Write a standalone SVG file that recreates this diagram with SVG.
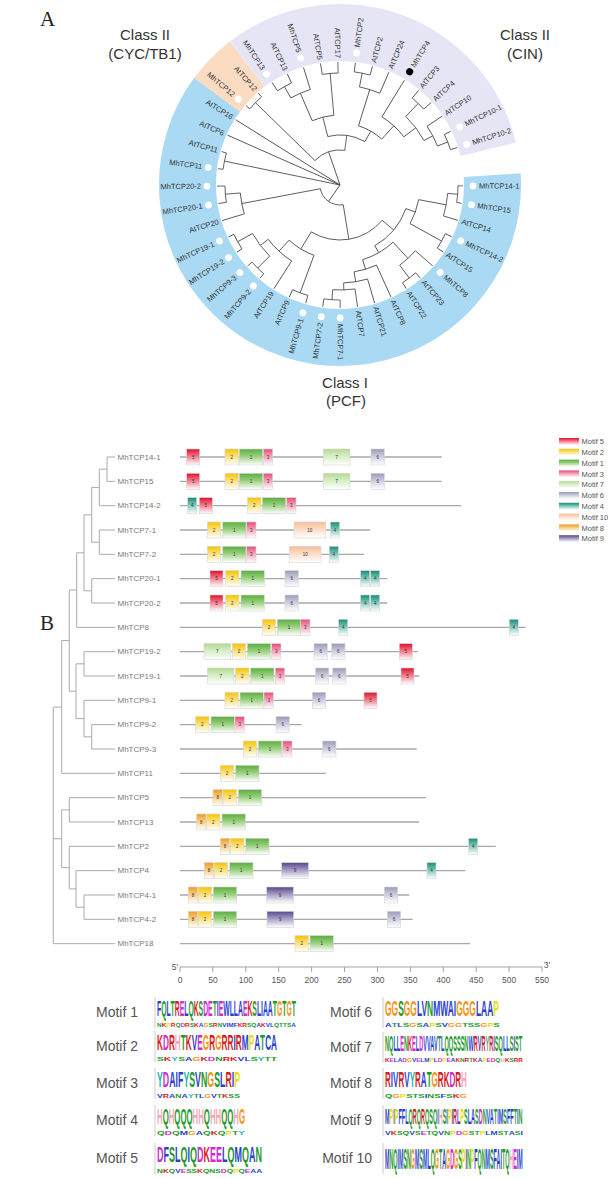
<svg xmlns="http://www.w3.org/2000/svg" width="608" height="1179" viewBox="0 0 608 1179">
<defs>
<linearGradient id="g1" x1="0" y1="0" x2="0" y2="1"><stop offset="0" stop-color="#5cae40"/><stop offset="0.45" stop-color="#98cf7c"/><stop offset="1" stop-color="#fff"/></linearGradient>
<linearGradient id="g2" x1="0" y1="0" x2="0" y2="1"><stop offset="0" stop-color="#f6c400"/><stop offset="0.45" stop-color="#fbe07a"/><stop offset="1" stop-color="#fff"/></linearGradient>
<linearGradient id="g3" x1="0" y1="0" x2="0" y2="1"><stop offset="0" stop-color="#e64c78"/><stop offset="0.45" stop-color="#f3a0b8"/><stop offset="1" stop-color="#fff"/></linearGradient>
<linearGradient id="g4" x1="0" y1="0" x2="0" y2="1"><stop offset="0" stop-color="#168c74"/><stop offset="0.45" stop-color="#7ac6b6"/><stop offset="1" stop-color="#fff"/></linearGradient>
<linearGradient id="g5" x1="0" y1="0" x2="0" y2="1"><stop offset="0" stop-color="#e0102e"/><stop offset="0.45" stop-color="#f27888"/><stop offset="1" stop-color="#fff"/></linearGradient>
<linearGradient id="g6" x1="0" y1="0" x2="0" y2="1"><stop offset="0" stop-color="#9a9ab6"/><stop offset="0.45" stop-color="#cbcbde"/><stop offset="1" stop-color="#fff"/></linearGradient>
<linearGradient id="g7" x1="0" y1="0" x2="0" y2="1"><stop offset="0" stop-color="#b2da92"/><stop offset="0.45" stop-color="#d6eec4"/><stop offset="1" stop-color="#fff"/></linearGradient>
<linearGradient id="g8" x1="0" y1="0" x2="0" y2="1"><stop offset="0" stop-color="#f09c1c"/><stop offset="0.45" stop-color="#f8cd80"/><stop offset="1" stop-color="#fff"/></linearGradient>
<linearGradient id="g9" x1="0" y1="0" x2="0" y2="1"><stop offset="0" stop-color="#574886"/><stop offset="0.45" stop-color="#a69ac6"/><stop offset="1" stop-color="#fff"/></linearGradient>
<linearGradient id="g10" x1="0" y1="0" x2="0" y2="1"><stop offset="0" stop-color="#f7be96"/><stop offset="0.45" stop-color="#fcdcc6"/><stop offset="1" stop-color="#fff"/></linearGradient>
</defs>
<style>
text{font-family:"Liberation Sans",Arial,sans-serif}
.pl{font-family:"Liberation Serif","Times New Roman",serif;font-size:21px;fill:#222}
.tl{font-size:7.5px;fill:#333;dominant-baseline:central}
.fl{text-anchor:end}
.e line,.e circle{stroke:#444;stroke-width:0.8;fill:none}
.dot{fill:#fff}
.blk{fill:#000}
.cls{font-size:15px;fill:#333;text-anchor:middle}
.bt line{stroke:#aaa;stroke-width:1}
.nm{font-size:8px;fill:#7a7a7a;dominant-baseline:central}
.ln{stroke:#a8a8a8;stroke-width:1.3}
.row rect{stroke:#d5d5d5;stroke-width:0.6}
.bn{font-size:4.5px;fill:#333;text-anchor:middle}
.m1{fill:url(#g1)}.m2{fill:url(#g2)}.m3{fill:url(#g3)}.m4{fill:url(#g4)}.m5{fill:url(#g5)}
.m6{fill:url(#g6)}.m7{fill:url(#g7)}.m8{fill:url(#g8)}.m9{fill:url(#g9)}.m10{fill:url(#g10)}
.lg text{font-size:7.5px;fill:#555}
.ax text{font-size:8.5px;fill:#555;text-anchor:middle}
.ax line{stroke:#999;stroke-width:0.9}
.ml{font-size:14px;fill:#555;text-anchor:end}
.lo{font-weight:bold;font-size:10px}
.lax{stroke:#999;stroke-width:0.5}
.cb{fill:#2a3fd0}.cg{fill:#1e9a2a}.cm{fill:#d02ad0}.cr{fill:#d81c1c}.ch{fill:#f4a8b8}.co{fill:#f29418}.cy{fill:#e6e010}.ct{fill:#22b4b4}
</style>
<rect width="608" height="1179" fill="#fff"/>

<!-- Panel A -->
<text class="pl" x="40" y="26">A</text>
<g id="ring" transform="translate(340,185)" fill="none" stroke-width="57">
<circle r="152.5" stroke="#a9d9f3" stroke-dasharray="585.3 2000" transform="rotate(-3.7)"/>
<circle r="152.5" stroke="#fbdcc3" stroke-dasharray="43.4 2000" transform="rotate(216.2)"/>
<circle r="152.5" stroke="#e6e5f5" stroke-dasharray="303.2 2000" transform="rotate(232.5)"/>
</g>
<g id="class-labels">
<text class="cls" x="145" y="39.5">Class II</text>
<text class="cls" x="145" y="59">(CYC/TB1)</text>
<text class="cls" x="525" y="39.5">Class II</text>
<text class="cls" x="525" y="59">(CIN)</text>
<text class="cls" x="345" y="388">Class I</text>
<text class="cls" x="346" y="406">(PCF)</text>
</g>
<g id="tree-a-edges" class="e" transform="translate(340,185)">
<line x2="35" transform="rotate(251)"/>
<line x2="123" transform="rotate(212.04)"/>
<line x2="123" transform="rotate(203.9)"/>
<line x2="118" transform="rotate(191.69)"/>
<line x2="20" transform="rotate(125)"/>
<circle r="35" stroke-dasharray="32.71 2000" transform="rotate(224.25)"/>
<circle r="118" stroke-dasharray="16.76 2000" transform="rotate(220.18)"/>
<circle r="50" stroke-dasharray="38.4 2000" transform="rotate(255.8)"/>
<circle r="70" stroke-dasharray="22.37 2000" transform="rotate(246.64)"/>
<circle r="100" stroke-dasharray="21.31 2000" transform="rotate(240.53)"/>
<circle r="113" stroke-dasharray="16.05 2000" transform="rotate(236.46)"/>
<circle r="112" stroke-dasharray="15.91 2000" transform="rotate(260.88)"/>
<circle r="62" stroke-dasharray="26.98 2000" transform="rotate(287.34)"/>
<circle r="100" stroke-dasharray="21.31 2000" transform="rotate(281.23)"/>
<circle r="114" stroke-dasharray="16.2 2000" transform="rotate(277.16)"/>
<circle r="80" stroke-dasharray="29.84 2000" transform="rotate(301.58)"/>
<circle r="95" stroke-dasharray="30.36 2000" transform="rotate(313.79)"/>
<circle r="113" stroke-dasharray="16.05 2000" transform="rotate(309.72)"/>
<circle r="105" stroke-dasharray="22.38 2000" transform="rotate(326)"/>
<circle r="116" stroke-dasharray="16.48 2000" transform="rotate(334.14)"/>
<circle r="118" stroke-dasharray="16.76 2000" transform="rotate(187.62)"/>
<circle r="20" stroke-dasharray="30.92 2000" transform="rotate(80.72)"/>
<circle r="100" stroke-dasharray="21.31 2000" transform="rotate(163.2)"/>
<circle r="115" stroke-dasharray="16.34 2000" transform="rotate(171.34)"/>
<circle r="55" stroke-dasharray="78.27 2000" transform="rotate(39.95)"/>
<circle r="75" stroke-dasharray="29.31 2000" transform="rotate(110.29)"/>
<circle r="115" stroke-dasharray="16.34 2000" transform="rotate(106.22)"/>
<circle r="90" stroke-dasharray="31.98 2000" transform="rotate(122.5)"/>
<circle r="100" stroke-dasharray="28.43 2000" transform="rotate(134.71)"/>
<circle r="117" stroke-dasharray="16.62 2000" transform="rotate(130.64)"/>
<circle r="117" stroke-dasharray="16.62 2000" transform="rotate(146.92)"/>
<circle r="70" stroke-dasharray="49.42 2000" transform="rotate(19.73)"/>
<circle r="80" stroke-dasharray="25.57 2000" transform="rotate(10.575)"/>
<circle r="108" stroke-dasharray="23.02 2000" transform="rotate(4.47)"/>
<circle r="118" stroke-dasharray="16.76 2000" transform="rotate(0.4)"/>
<circle r="116" stroke-dasharray="16.48 2000" transform="rotate(24.82)"/>
<circle r="78" stroke-dasharray="35.33 2000" transform="rotate(47.2)"/>
<circle r="100" stroke-dasharray="21.31 2000" transform="rotate(41.1)"/>
<circle r="116" stroke-dasharray="16.48 2000" transform="rotate(49.24)"/>
<circle r="88" stroke-dasharray="23.44 2000" transform="rotate(65.52)"/>
<circle r="98" stroke-dasharray="24.36 2000" transform="rotate(73.66)"/>
<circle r="105" stroke-dasharray="22.38 2000" transform="rotate(81.8)"/>
<circle r="115" stroke-dasharray="16.34 2000" transform="rotate(89.94)"/>
<line x1="35" x2="118" transform="rotate(224.25)"/>
<line x1="35" x2="50" transform="rotate(277.8)"/>
<line x1="50" x2="70" transform="rotate(255.8)"/>
<line x1="50" x2="62" transform="rotate(299.8)"/>
<line x1="70" x2="100" transform="rotate(246.64)"/>
<line x1="70" x2="112" transform="rotate(264.95)"/>
<line x1="100" x2="113" transform="rotate(240.53)"/>
<line x1="100" x2="123" transform="rotate(252.74)"/>
<line x1="113" x2="123" transform="rotate(236.46)"/>
<line x1="113" x2="123" transform="rotate(244.6)"/>
<line x1="112" x2="123" transform="rotate(260.88)"/>
<line x1="112" x2="123" transform="rotate(269.02)"/>
<line x1="62" x2="100" transform="rotate(287.34)"/>
<line x1="62" x2="80" transform="rotate(312.27)"/>
<line x1="100" x2="114" transform="rotate(281.23)"/>
<line x1="100" x2="123" transform="rotate(293.44)"/>
<line x1="114" x2="123" transform="rotate(277.16)"/>
<line x1="114" x2="123" transform="rotate(285.3)"/>
<line x1="80" x2="123" transform="rotate(301.58)"/>
<line x1="80" x2="95" transform="rotate(322.95)"/>
<line x1="95" x2="113" transform="rotate(313.79)"/>
<line x1="95" x2="105" transform="rotate(332.1)"/>
<line x1="113" x2="123" transform="rotate(309.72)"/>
<line x1="113" x2="123" transform="rotate(317.86)"/>
<line x1="105" x2="123" transform="rotate(326)"/>
<line x1="105" x2="116" transform="rotate(338.21)"/>
<line x1="116" x2="123" transform="rotate(334.14)"/>
<line x1="116" x2="123" transform="rotate(342.28)"/>
<line x1="118" x2="123" transform="rotate(220.18)"/>
<line x1="118" x2="123" transform="rotate(228.32)"/>
<line x1="118" x2="123" transform="rotate(187.62)"/>
<line x1="118" x2="123" transform="rotate(195.76)"/>
<line x1="20" x2="55" transform="rotate(80.72)"/>
<line x1="20" x2="100" transform="rotate(169.3)"/>
<line x1="100" x2="123" transform="rotate(163.2)"/>
<line x1="100" x2="115" transform="rotate(175.41)"/>
<line x1="115" x2="123" transform="rotate(171.34)"/>
<line x1="115" x2="123" transform="rotate(179.48)"/>
<line x1="55" x2="75" transform="rotate(121.49)"/>
<line x1="55" x2="70" transform="rotate(39.95)"/>
<line x1="75" x2="115" transform="rotate(110.29)"/>
<line x1="75" x2="90" transform="rotate(132.68)"/>
<line x1="115" x2="123" transform="rotate(106.22)"/>
<line x1="115" x2="123" transform="rotate(114.36)"/>
<line x1="90" x2="123" transform="rotate(122.5)"/>
<line x1="90" x2="100" transform="rotate(142.86)"/>
<line x1="100" x2="117" transform="rotate(134.71)"/>
<line x1="100" x2="117" transform="rotate(151)"/>
<line x1="117" x2="123" transform="rotate(130.64)"/>
<line x1="117" x2="123" transform="rotate(138.78)"/>
<line x1="117" x2="123" transform="rotate(146.92)"/>
<line x1="117" x2="123" transform="rotate(155.06)"/>
<line x1="70" x2="80" transform="rotate(19.73)"/>
<line x1="70" x2="78" transform="rotate(60.18)"/>
<line x1="80" x2="108" transform="rotate(10.575)"/>
<line x1="80" x2="116" transform="rotate(28.89)"/>
<line x1="108" x2="118" transform="rotate(4.47)"/>
<line x1="108" x2="123" transform="rotate(16.68)"/>
<line x1="118" x2="123" transform="rotate(0.4)"/>
<line x1="118" x2="123" transform="rotate(8.54)"/>
<line x1="116" x2="123" transform="rotate(24.82)"/>
<line x1="116" x2="123" transform="rotate(32.96)"/>
<line x1="78" x2="100" transform="rotate(47.2)"/>
<line x1="78" x2="88" transform="rotate(73.15)"/>
<line x1="100" x2="123" transform="rotate(41.1)"/>
<line x1="100" x2="116" transform="rotate(53.31)"/>
<line x1="116" x2="123" transform="rotate(49.24)"/>
<line x1="116" x2="123" transform="rotate(57.38)"/>
<line x1="88" x2="123" transform="rotate(65.52)"/>
<line x1="88" x2="98" transform="rotate(80.78)"/>
<line x1="98" x2="123" transform="rotate(73.66)"/>
<line x1="98" x2="105" transform="rotate(87.9)"/>
<line x1="105" x2="123" transform="rotate(81.8)"/>
<line x1="105" x2="115" transform="rotate(94.01)"/>
<line x1="115" x2="123" transform="rotate(89.94)"/>
<line x1="115" x2="123" transform="rotate(98.08)"/>
</g>
<g id="tree-a-leaves" transform="translate(340,185)">
<g id="a-MhTCP14-1" transform="rotate(0.4)"><circle class="dot" cx="133" r="3.4"/><text class="tl" x="139">MhTCP14-1</text></g>
<g id="a-MhTCP15" transform="rotate(8.54)"><circle class="dot" cx="133" r="3.4"/><text class="tl" x="139">MhTCP15</text></g>
<g id="a-AtTCP14" transform="rotate(16.68)"><text class="tl" x="127">AtTCP14</text></g>
<g id="a-MhTCP14-2" transform="rotate(24.82)"><circle class="dot" cx="133" r="3.4"/><text class="tl" x="139">MhTCP14-2</text></g>
<g id="a-AtTCP15" transform="rotate(32.96)"><text class="tl" x="127">AtTCP15</text></g>
<g id="a-MhTCP8" transform="rotate(41.1)"><circle class="dot" cx="133" r="3.4"/><text class="tl" x="139">MhTCP8</text></g>
<g id="a-AtTCP23" transform="rotate(49.24)"><text class="tl" x="127">AtTCP23</text></g>
<g id="a-AtTCP22" transform="rotate(57.38)"><text class="tl" x="127">AtTCP22</text></g>
<g id="a-AtTCP8" transform="rotate(65.52)"><text class="tl" x="127">AtTCP8</text></g>
<g id="a-AtTCP21" transform="rotate(73.66)"><text class="tl" x="127">AtTCP21</text></g>
<g id="a-AtTCP7" transform="rotate(81.8)"><text class="tl" x="127">AtTCP7</text></g>
<g id="a-MhTCP7-1" transform="rotate(89.94)"><circle class="dot" cx="133" r="3.4"/><text class="tl" x="139">MhTCP7-1</text></g>
<g id="a-MhTCP7-2" transform="rotate(98.08)"><circle class="dot" cx="133" r="3.4"/><text class="tl fl" transform="translate(139,0) rotate(180)">MhTCP7-2</text></g>
<g id="a-MhTCP9-1" transform="rotate(106.22)"><circle class="dot" cx="133" r="3.4"/><text class="tl fl" transform="translate(139,0) rotate(180)">MhTCP9-1</text></g>
<g id="a-AtTCP9" transform="rotate(114.36)"><text class="tl fl" transform="translate(127,0) rotate(180)">AtTCP9</text></g>
<g id="a-AtTCP19" transform="rotate(122.5)"><text class="tl fl" transform="translate(127,0) rotate(180)">AtTCP19</text></g>
<g id="a-MhTCP9-2" transform="rotate(130.64)"><circle class="dot" cx="133" r="3.4"/><text class="tl fl" transform="translate(139,0) rotate(180)">MhTCP9-2</text></g>
<g id="a-MhTCP9-3" transform="rotate(138.78)"><circle class="dot" cx="133" r="3.4"/><text class="tl fl" transform="translate(139,0) rotate(180)">MhTCP9-3</text></g>
<g id="a-MhTCP19-2" transform="rotate(146.92)"><circle class="dot" cx="133" r="3.4"/><text class="tl fl" transform="translate(139,0) rotate(180)">MhTCP19-2</text></g>
<g id="a-MhTCP19-1" transform="rotate(155.06)"><circle class="dot" cx="133" r="3.4"/><text class="tl fl" transform="translate(139,0) rotate(180)">MhTCP19-1</text></g>
<g id="a-AtTCP20" transform="rotate(163.2)"><text class="tl fl" transform="translate(127,0) rotate(180)">AtTCP20</text></g>
<g id="a-MhTCP20-1" transform="rotate(171.34)"><circle class="dot" cx="133" r="3.4"/><text class="tl fl" transform="translate(139,0) rotate(180)">MhTCP20-1</text></g>
<g id="a-MhTCP20-2" transform="rotate(179.48)"><circle class="dot" cx="133" r="3.4"/><text class="tl fl" transform="translate(139,0) rotate(180)">MhTCP20-2</text></g>
<g id="a-MhTCP11" transform="rotate(187.62)"><circle class="dot" cx="133" r="3.4"/><text class="tl fl" transform="translate(139,0) rotate(180)">MhTCP11</text></g>
<g id="a-AtTCP11" transform="rotate(195.76)"><text class="tl fl" transform="translate(127,0) rotate(180)">AtTCP11</text></g>
<g id="a-AtTCP6" transform="rotate(203.9)"><text class="tl fl" transform="translate(127,0) rotate(180)">AtTCP6</text></g>
<g id="a-AtTCP16" transform="rotate(212.04)"><text class="tl fl" transform="translate(127,0) rotate(180)">AtTCP16</text></g>
<g id="a-MhTCP12" transform="rotate(220.18)"><circle class="dot" cx="133" r="3.4"/><text class="tl fl" transform="translate(139,0) rotate(180)">MhTCP12</text></g>
<g id="a-AtTCP12" transform="rotate(228.32)"><text class="tl fl" transform="translate(127,0) rotate(180)">AtTCP12</text></g>
<g id="a-MhTCP13" transform="rotate(236.46)"><circle class="dot" cx="133" r="3.4"/><text class="tl fl" transform="translate(139,0) rotate(180)">MhTCP13</text></g>
<g id="a-AtTCP13" transform="rotate(244.6)"><text class="tl fl" transform="translate(127,0) rotate(180)">AtTCP13</text></g>
<g id="a-MhTCP5" transform="rotate(252.74)"><circle class="dot" cx="133" r="3.4"/><text class="tl fl" transform="translate(139,0) rotate(180)">MhTCP5</text></g>
<g id="a-AtTCP5" transform="rotate(260.88)"><text class="tl fl" transform="translate(127,0) rotate(180)">AtTCP5</text></g>
<g id="a-AtTCP17" transform="rotate(269.02)"><text class="tl fl" transform="translate(127,0) rotate(180)">AtTCP17</text></g>
<g id="a-MhTCP2" transform="rotate(277.16)"><circle class="dot" cx="133" r="3.4"/><text class="tl" x="139">MhTCP2</text></g>
<g id="a-AtTCP2" transform="rotate(285.3)"><text class="tl" x="127">AtTCP2</text></g>
<g id="a-AtTCP24" transform="rotate(293.44)"><text class="tl" x="127">AtTCP24</text></g>
<g id="a-MhTCP4" transform="rotate(301.58)"><circle class="blk" cx="133" r="3.6"/><text class="tl" x="139">MhTCP4</text></g>
<g id="a-AtTCP3" transform="rotate(309.72)"><text class="tl" x="127">AtTCP3</text></g>
<g id="a-AtTCP4" transform="rotate(317.86)"><text class="tl" x="127">AtTCP4</text></g>
<g id="a-AtTCP10" transform="rotate(326)"><text class="tl" x="127">AtTCP10</text></g>
<g id="a-MhTCP10-1" transform="rotate(334.14)"><circle class="dot" cx="133" r="3.4"/><text class="tl" x="139">MhTCP10-1</text></g>
<g id="a-MhTCP10-2" transform="rotate(342.28)"><circle class="dot" cx="133" r="3.4"/><text class="tl" x="139">MhTCP10-2</text></g>
</g>

<!-- Panel B -->
<text class="pl" x="40" y="630">B</text>
<g id="tree-b-edges" class="bt">
<line x1="107" y1="457" x2="107" y2="481.33"/>
<line x1="99.3" y1="469.17" x2="99.3" y2="505.67"/>
<line x1="99.3" y1="530" x2="99.3" y2="554.33"/>
<line x1="91.7" y1="487.42" x2="91.7" y2="542.17"/>
<line x1="91.7" y1="578.67" x2="91.7" y2="603"/>
<line x1="84" y1="514.8" x2="84" y2="590.83"/>
<line x1="76.7" y1="552.8" x2="76.7" y2="627.33"/>
<line x1="84" y1="651.67" x2="84" y2="676"/>
<line x1="91.7" y1="724.67" x2="91.7" y2="749"/>
<line x1="84" y1="700.33" x2="84" y2="736.83"/>
<line x1="76" y1="663.83" x2="76" y2="718.58"/>
<line x1="69.3" y1="590.07" x2="69.3" y2="691.2"/>
<line x1="61.7" y1="640.6" x2="61.7" y2="773.33"/>
<line x1="69.3" y1="797.67" x2="69.3" y2="822"/>
<line x1="84" y1="895" x2="84" y2="919.33"/>
<line x1="76" y1="870.67" x2="76" y2="907.17"/>
<line x1="69.3" y1="846.33" x2="69.3" y2="888.92"/>
<line x1="61.7" y1="809.83" x2="61.7" y2="867.63"/>
<line x1="53.3" y1="707.1" x2="53.3" y2="943.67"/>
<line x1="99.3" y1="469.17" x2="107" y2="469.17"/>
<line x1="91.7" y1="487.42" x2="99.3" y2="487.42"/>
<line x1="91.7" y1="542.17" x2="99.3" y2="542.17"/>
<line x1="84" y1="514.8" x2="91.7" y2="514.8"/>
<line x1="84" y1="590.83" x2="91.7" y2="590.83"/>
<line x1="76.7" y1="552.8" x2="84" y2="552.8"/>
<line x1="69.3" y1="590.07" x2="76.7" y2="590.07"/>
<line x1="76" y1="663.83" x2="84" y2="663.83"/>
<line x1="84" y1="736.83" x2="91.7" y2="736.83"/>
<line x1="76" y1="718.58" x2="84" y2="718.58"/>
<line x1="69.3" y1="691.2" x2="76" y2="691.2"/>
<line x1="61.7" y1="640.6" x2="69.3" y2="640.6"/>
<line x1="53.3" y1="707.1" x2="61.7" y2="707.1"/>
<line x1="61.7" y1="809.83" x2="69.3" y2="809.83"/>
<line x1="76" y1="907.17" x2="84" y2="907.17"/>
<line x1="69.3" y1="888.92" x2="76" y2="888.92"/>
<line x1="61.7" y1="867.63" x2="69.3" y2="867.63"/>
<line x1="53.3" y1="838.73" x2="61.7" y2="838.73"/>
<line x1="107" y1="457" x2="115" y2="457"/>
<line x1="107" y1="481.33" x2="115" y2="481.33"/>
<line x1="99.3" y1="505.67" x2="115" y2="505.67"/>
<line x1="99.3" y1="530" x2="115" y2="530"/>
<line x1="99.3" y1="554.33" x2="115" y2="554.33"/>
<line x1="91.7" y1="578.67" x2="115" y2="578.67"/>
<line x1="91.7" y1="603" x2="115" y2="603"/>
<line x1="76.7" y1="627.33" x2="115" y2="627.33"/>
<line x1="84" y1="651.67" x2="115" y2="651.67"/>
<line x1="84" y1="676" x2="115" y2="676"/>
<line x1="84" y1="700.33" x2="115" y2="700.33"/>
<line x1="91.7" y1="724.67" x2="115" y2="724.67"/>
<line x1="91.7" y1="749" x2="115" y2="749"/>
<line x1="61.7" y1="773.33" x2="115" y2="773.33"/>
<line x1="69.3" y1="797.67" x2="115" y2="797.67"/>
<line x1="69.3" y1="822" x2="115" y2="822"/>
<line x1="69.3" y1="846.33" x2="115" y2="846.33"/>
<line x1="76" y1="870.67" x2="115" y2="870.67"/>
<line x1="84" y1="895" x2="115" y2="895"/>
<line x1="84" y1="919.33" x2="115" y2="919.33"/>
<line x1="53.3" y1="943.67" x2="115" y2="943.67"/>
</g>

<g id="row-MhTCP14-1" class="row" transform="translate(0,457)"><text class="nm" x="117.5">MhTCP14-1</text><line class="ln" x1="180" x2="441.7"/>
<rect class="m5" x="186.7" y="-8" width="13" height="16"/><text class="bn" x="193.2" y="1.6">5</text>
<rect class="m2" x="225" y="-8" width="13.3" height="16"/><text class="bn" x="231.65" y="1.6">2</text>
<rect class="m1" x="239.3" y="-8" width="23.3" height="16"/><text class="bn" x="250.95" y="1.6">1</text>
<rect class="m3" x="263.3" y="-8" width="9.3" height="16"/><text class="bn" x="267.95" y="1.6">3</text>
<rect class="m7" x="323.3" y="-8" width="26.7" height="16"/><text class="bn" x="336.65" y="1.6">7</text>
<rect class="m6" x="371" y="-8" width="13.3" height="16"/><text class="bn" x="377.65" y="1.6">6</text></g>
<g id="row-MhTCP15" class="row" transform="translate(0,481.33)"><text class="nm" x="117.5">MhTCP15</text><line class="ln" x1="180" x2="441.7"/>
<rect class="m5" x="186.7" y="-8" width="13" height="16"/><text class="bn" x="193.2" y="1.6">5</text>
<rect class="m2" x="225" y="-8" width="13.3" height="16"/><text class="bn" x="231.65" y="1.6">2</text>
<rect class="m1" x="239.3" y="-8" width="23.3" height="16"/><text class="bn" x="250.95" y="1.6">1</text>
<rect class="m3" x="263.3" y="-8" width="9.3" height="16"/><text class="bn" x="267.95" y="1.6">3</text>
<rect class="m7" x="323.3" y="-8" width="26.7" height="16"/><text class="bn" x="336.65" y="1.6">7</text>
<rect class="m6" x="371" y="-8" width="13.3" height="16"/><text class="bn" x="377.65" y="1.6">6</text></g>
<g id="row-MhTCP14-2" class="row" transform="translate(0,505.67)"><text class="nm" x="117.5">MhTCP14-2</text><line class="ln" x1="180" x2="461"/>
<rect class="m4" x="187.7" y="-8" width="9" height="16"/><text class="bn" x="192.2" y="1.6">4</text>
<rect class="m5" x="199.3" y="-8" width="13" height="16"/><text class="bn" x="205.8" y="1.6">5</text>
<rect class="m2" x="247.7" y="-8" width="13.3" height="16"/><text class="bn" x="254.35" y="1.6">2</text>
<rect class="m1" x="262.3" y="-8" width="23.3" height="16"/><text class="bn" x="273.95" y="1.6">1</text>
<rect class="m3" x="286.7" y="-8" width="9.3" height="16"/><text class="bn" x="291.35" y="1.6">3</text></g>
<g id="row-MhTCP7-1" class="row" transform="translate(0,530)"><text class="nm" x="117.5">MhTCP7-1</text><line class="ln" x1="180" x2="370"/>
<rect class="m2" x="207.3" y="-8" width="13.3" height="16"/><text class="bn" x="213.95" y="1.6">2</text>
<rect class="m1" x="222.7" y="-8" width="23.3" height="16"/><text class="bn" x="234.35" y="1.6">1</text>
<rect class="m3" x="246.7" y="-8" width="9.3" height="16"/><text class="bn" x="251.35" y="1.6">3</text>
<rect class="m10" x="294" y="-8" width="31.7" height="16"/><text class="bn" x="309.85" y="1.6">10</text>
<rect class="m4" x="330.5" y="-8" width="9" height="16"/><text class="bn" x="335" y="1.6">4</text></g>
<g id="row-MhTCP7-2" class="row" transform="translate(0,554.33)"><text class="nm" x="117.5">MhTCP7-2</text><line class="ln" x1="180" x2="364"/>
<rect class="m2" x="207.3" y="-8" width="13.3" height="16"/><text class="bn" x="213.95" y="1.6">2</text>
<rect class="m1" x="222.7" y="-8" width="23.3" height="16"/><text class="bn" x="234.35" y="1.6">1</text>
<rect class="m3" x="246.7" y="-8" width="9.3" height="16"/><text class="bn" x="251.35" y="1.6">3</text>
<rect class="m10" x="289.3" y="-8" width="31.7" height="16"/><text class="bn" x="305.15" y="1.6">10</text>
<rect class="m4" x="329.3" y="-8" width="9" height="16"/><text class="bn" x="333.8" y="1.6">4</text></g>
<g id="row-MhTCP20-1" class="row" transform="translate(0,578.67)"><text class="nm" x="117.5">MhTCP20-1</text><line class="ln" x1="180" x2="387.3"/>
<rect class="m5" x="210" y="-8" width="13" height="16"/><text class="bn" x="216.5" y="1.6">5</text>
<rect class="m2" x="225.7" y="-8" width="13.3" height="16"/><text class="bn" x="232.35" y="1.6">2</text>
<rect class="m1" x="241" y="-8" width="23.3" height="16"/><text class="bn" x="252.65" y="1.6">1</text>
<rect class="m6" x="285" y="-8" width="13.3" height="16"/><text class="bn" x="291.65" y="1.6">6</text>
<rect class="m4" x="360.7" y="-8" width="9" height="16"/><text class="bn" x="365.2" y="1.6">4</text>
<rect class="m4" x="370.7" y="-8" width="9" height="16"/><text class="bn" x="375.2" y="1.6">4</text></g>
<g id="row-MhTCP20-2" class="row" transform="translate(0,603)"><text class="nm" x="117.5">MhTCP20-2</text><line class="ln" x1="180" x2="387.3"/>
<rect class="m5" x="210" y="-8" width="13" height="16"/><text class="bn" x="216.5" y="1.6">5</text>
<rect class="m2" x="225.7" y="-8" width="13.3" height="16"/><text class="bn" x="232.35" y="1.6">2</text>
<rect class="m1" x="241" y="-8" width="23.3" height="16"/><text class="bn" x="252.65" y="1.6">1</text>
<rect class="m6" x="285" y="-8" width="13.3" height="16"/><text class="bn" x="291.65" y="1.6">6</text>
<rect class="m4" x="360.7" y="-8" width="9" height="16"/><text class="bn" x="365.2" y="1.6">4</text>
<rect class="m4" x="370.7" y="-8" width="9" height="16"/><text class="bn" x="375.2" y="1.6">4</text></g>
<g id="row-MhTCP8" class="row" transform="translate(0,627.33)"><text class="nm" x="117.5">MhTCP8</text><line class="ln" x1="180" x2="525.7"/>
<rect class="m2" x="262.3" y="-8" width="13.3" height="16"/><text class="bn" x="268.95" y="1.6">2</text>
<rect class="m1" x="277.3" y="-8" width="23.3" height="16"/><text class="bn" x="288.95" y="1.6">1</text>
<rect class="m3" x="300.7" y="-8" width="9.3" height="16"/><text class="bn" x="305.35" y="1.6">3</text>
<rect class="m4" x="338.7" y="-8" width="9" height="16"/><text class="bn" x="343.2" y="1.6">4</text>
<rect class="m4" x="509.3" y="-8" width="9" height="16"/><text class="bn" x="513.8" y="1.6">4</text></g>
<g id="row-MhTCP19-2" class="row" transform="translate(0,651.67)"><text class="nm" x="117.5">MhTCP19-2</text><line class="ln" x1="180" x2="417.7"/>
<rect class="m7" x="204" y="-8" width="26.7" height="16"/><text class="bn" x="217.35" y="1.6">7</text>
<rect class="m2" x="232.3" y="-8" width="13.3" height="16"/><text class="bn" x="238.95" y="1.6">2</text>
<rect class="m1" x="247.3" y="-8" width="23.3" height="16"/><text class="bn" x="258.95" y="1.6">1</text>
<rect class="m3" x="271.7" y="-8" width="9.3" height="16"/><text class="bn" x="276.35" y="1.6">3</text>
<rect class="m6" x="314" y="-8" width="13.3" height="16"/><text class="bn" x="320.65" y="1.6">6</text>
<rect class="m6" x="331.7" y="-8" width="13.3" height="16"/><text class="bn" x="338.35" y="1.6">6</text>
<rect class="m5" x="399.3" y="-8" width="13" height="16"/><text class="bn" x="405.8" y="1.6">5</text></g>
<g id="row-MhTCP19-1" class="row" transform="translate(0,676)"><text class="nm" x="117.5">MhTCP19-1</text><line class="ln" x1="180" x2="419.3"/>
<rect class="m7" x="207.3" y="-8" width="26.7" height="16"/><text class="bn" x="220.65" y="1.6">7</text>
<rect class="m2" x="235.7" y="-8" width="13.3" height="16"/><text class="bn" x="242.35" y="1.6">2</text>
<rect class="m1" x="250.7" y="-8" width="23.3" height="16"/><text class="bn" x="262.35" y="1.6">1</text>
<rect class="m3" x="275.3" y="-8" width="9.3" height="16"/><text class="bn" x="279.95" y="1.6">3</text>
<rect class="m6" x="315.5" y="-8" width="13.3" height="16"/><text class="bn" x="322.15" y="1.6">6</text>
<rect class="m6" x="332.7" y="-8" width="13.3" height="16"/><text class="bn" x="339.35" y="1.6">6</text>
<rect class="m5" x="401" y="-8" width="13" height="16"/><text class="bn" x="407.5" y="1.6">5</text></g>
<g id="row-MhTCP9-1" class="row" transform="translate(0,700.33)"><text class="nm" x="117.5">MhTCP9-1</text><line class="ln" x1="180" x2="377.3"/>
<rect class="m2" x="225" y="-8" width="13.3" height="16"/><text class="bn" x="231.65" y="1.6">2</text>
<rect class="m1" x="240" y="-8" width="23.3" height="16"/><text class="bn" x="251.65" y="1.6">1</text>
<rect class="m3" x="264" y="-8" width="9.3" height="16"/><text class="bn" x="268.65" y="1.6">3</text>
<rect class="m6" x="312.3" y="-8" width="13.3" height="16"/><text class="bn" x="318.95" y="1.6">6</text>
<rect class="m5" x="364" y="-8" width="13" height="16"/><text class="bn" x="370.5" y="1.6">5</text></g>
<g id="row-MhTCP9-2" class="row" transform="translate(0,724.67)"><text class="nm" x="117.5">MhTCP9-2</text><line class="ln" x1="180" x2="301.7"/>
<rect class="m2" x="195.7" y="-8" width="13.3" height="16"/><text class="bn" x="202.35" y="1.6">2</text>
<rect class="m1" x="211" y="-8" width="23.3" height="16"/><text class="bn" x="222.65" y="1.6">1</text>
<rect class="m3" x="235" y="-8" width="9.3" height="16"/><text class="bn" x="239.65" y="1.6">3</text>
<rect class="m6" x="276" y="-8" width="13.3" height="16"/><text class="bn" x="282.65" y="1.6">6</text></g>
<g id="row-MhTCP9-3" class="row" transform="translate(0,749)"><text class="nm" x="117.5">MhTCP9-3</text><line class="ln" x1="180" x2="416.7"/>
<rect class="m2" x="243.3" y="-8" width="13.3" height="16"/><text class="bn" x="249.95" y="1.6">2</text>
<rect class="m1" x="258.3" y="-8" width="23.3" height="16"/><text class="bn" x="269.95" y="1.6">1</text>
<rect class="m3" x="282.7" y="-8" width="9.3" height="16"/><text class="bn" x="287.35" y="1.6">3</text>
<rect class="m6" x="322.7" y="-8" width="13.3" height="16"/><text class="bn" x="329.35" y="1.6">6</text></g>
<g id="row-MhTCP11" class="row" transform="translate(0,773.33)"><text class="nm" x="117.5">MhTCP11</text><line class="ln" x1="180" x2="325.7"/>
<rect class="m2" x="220.3" y="-8" width="13.3" height="16"/><text class="bn" x="226.95" y="1.6">2</text>
<rect class="m1" x="235.7" y="-8" width="23.3" height="16"/><text class="bn" x="247.35" y="1.6">1</text></g>
<g id="row-MhTCP5" class="row" transform="translate(0,797.67)"><text class="nm" x="117.5">MhTCP5</text><line class="ln" x1="180" x2="426"/>
<rect class="m8" x="213" y="-8" width="9.3" height="16"/><text class="bn" x="217.65" y="1.6">8</text>
<rect class="m2" x="223" y="-8" width="13.3" height="16"/><text class="bn" x="229.65" y="1.6">2</text>
<rect class="m1" x="238.3" y="-8" width="23.3" height="16"/><text class="bn" x="249.95" y="1.6">1</text></g>
<g id="row-MhTCP13" class="row" transform="translate(0,822)"><text class="nm" x="117.5">MhTCP13</text><line class="ln" x1="180" x2="419"/>
<rect class="m8" x="196.7" y="-8" width="9.3" height="16"/><text class="bn" x="201.35" y="1.6">8</text>
<rect class="m2" x="206.7" y="-8" width="13.3" height="16"/><text class="bn" x="213.35" y="1.6">2</text>
<rect class="m1" x="222" y="-8" width="23.3" height="16"/><text class="bn" x="233.65" y="1.6">1</text></g>
<g id="row-MhTCP2" class="row" transform="translate(0,846.33)"><text class="nm" x="117.5">MhTCP2</text><line class="ln" x1="180" x2="495.7"/>
<rect class="m8" x="220.3" y="-8" width="9.3" height="16"/><text class="bn" x="224.95" y="1.6">8</text>
<rect class="m2" x="230.7" y="-8" width="13.3" height="16"/><text class="bn" x="237.35" y="1.6">2</text>
<rect class="m1" x="245.7" y="-8" width="23.3" height="16"/><text class="bn" x="257.35" y="1.6">1</text>
<rect class="m4" x="468.7" y="-8" width="9" height="16"/><text class="bn" x="473.2" y="1.6">4</text></g>
<g id="row-MhTCP4" class="row" transform="translate(0,870.67)"><text class="nm" x="117.5">MhTCP4</text><line class="ln" x1="180" x2="465.3"/>
<rect class="m8" x="204.3" y="-8" width="9.3" height="16"/><text class="bn" x="208.95" y="1.6">8</text>
<rect class="m2" x="214.3" y="-8" width="13.3" height="16"/><text class="bn" x="220.95" y="1.6">2</text>
<rect class="m1" x="229.7" y="-8" width="23.3" height="16"/><text class="bn" x="241.35" y="1.6">1</text>
<rect class="m9" x="281.7" y="-8" width="26.7" height="16"/><text class="bn" x="295.05" y="1.6">9</text>
<rect class="m4" x="427" y="-8" width="9" height="16"/><text class="bn" x="431.5" y="1.6">4</text></g>
<g id="row-MhTCP4-1" class="row" transform="translate(0,895)"><text class="nm" x="117.5">MhTCP4-1</text><line class="ln" x1="180" x2="409.3"/>
<rect class="m8" x="188.3" y="-8" width="9.3" height="16"/><text class="bn" x="192.95" y="1.6">8</text>
<rect class="m2" x="198.3" y="-8" width="13.3" height="16"/><text class="bn" x="204.95" y="1.6">2</text>
<rect class="m1" x="213.3" y="-8" width="23.3" height="16"/><text class="bn" x="224.95" y="1.6">1</text>
<rect class="m9" x="266.7" y="-8" width="26.7" height="16"/><text class="bn" x="280.05" y="1.6">9</text>
<rect class="m6" x="384.3" y="-8" width="13.3" height="16"/><text class="bn" x="390.95" y="1.6">6</text></g>
<g id="row-MhTCP4-2" class="row" transform="translate(0,919.33)"><text class="nm" x="117.5">MhTCP4-2</text><line class="ln" x1="180" x2="412.7"/>
<rect class="m8" x="188.3" y="-8" width="9.3" height="16"/><text class="bn" x="192.95" y="1.6">8</text>
<rect class="m2" x="198.3" y="-8" width="13.3" height="16"/><text class="bn" x="204.95" y="1.6">2</text>
<rect class="m1" x="213.3" y="-8" width="23.3" height="16"/><text class="bn" x="224.95" y="1.6">1</text>
<rect class="m9" x="267" y="-8" width="26.7" height="16"/><text class="bn" x="280.35" y="1.6">9</text>
<rect class="m6" x="387.3" y="-8" width="13.3" height="16"/><text class="bn" x="393.95" y="1.6">6</text></g>
<g id="row-MhTCP18" class="row" transform="translate(0,943.67)"><text class="nm" x="117.5">MhTCP18</text><line class="ln" x1="180" x2="470"/>
<rect class="m2" x="295" y="-8" width="13.3" height="16"/><text class="bn" x="301.65" y="1.6">2</text>
<rect class="m1" x="310" y="-8" width="23.3" height="16"/><text class="bn" x="321.65" y="1.6">1</text></g>

<g id="legend" class="lg">
<rect class="m5" x="559" y="438" width="20" height="7"/><text x="581.5" y="444.2">Motif 5</text>
<rect class="m2" x="559" y="448.8" width="20" height="7"/><text x="581.5" y="455">Motif 2</text>
<rect class="m1" x="559" y="459.6" width="20" height="7"/><text x="581.5" y="465.8">Motif 1</text>
<rect class="m3" x="559" y="470.4" width="20" height="7"/><text x="581.5" y="476.6">Motif 3</text>
<rect class="m7" x="559" y="481.2" width="20" height="7"/><text x="581.5" y="487.4">Motif 7</text>
<rect class="m6" x="559" y="492" width="20" height="7"/><text x="581.5" y="498.2">Motif 6</text>
<rect class="m4" x="559" y="502.8" width="20" height="7"/><text x="581.5" y="509">Motif 4</text>
<rect class="m10" x="559" y="513.6" width="20" height="7"/><text x="581.5" y="519.8">Motif 10</text>
<rect class="m8" x="559" y="524.4" width="20" height="7"/><text x="581.5" y="530.6">Motif 8</text>
<rect class="m9" x="559" y="535.2" width="20" height="7"/><text x="581.5" y="541.4">Motif 9</text>
</g>

<g id="axis" class="ax">
<line x1="180" y1="967" x2="542" y2="967"/>
<line x1="180" y1="967" x2="180" y2="972"/><line x1="212.9" y1="967" x2="212.9" y2="972"/><line x1="245.8" y1="967" x2="245.8" y2="972"/><line x1="278.7" y1="967" x2="278.7" y2="972"/><line x1="311.6" y1="967" x2="311.6" y2="972"/><line x1="344.5" y1="967" x2="344.5" y2="972"/><line x1="377.5" y1="967" x2="377.5" y2="972"/><line x1="410.4" y1="967" x2="410.4" y2="972"/><line x1="443.3" y1="967" x2="443.3" y2="972"/><line x1="476.2" y1="967" x2="476.2" y2="972"/><line x1="509.1" y1="967" x2="509.1" y2="972"/><line x1="542" y1="967" x2="542" y2="972"/>
<text x="180" y="983">0</text><text x="212.9" y="983">50</text><text x="245.8" y="983">100</text><text x="278.7" y="983">150</text><text x="311.6" y="983">200</text><text x="344.5" y="983">250</text><text x="377.5" y="983">300</text><text x="410.4" y="983">350</text><text x="443.3" y="983">400</text><text x="476.2" y="983">450</text><text x="509.1" y="983">500</text><text x="542" y="983">550</text>
<text x="175" y="970">5'</text><text x="547" y="968">3'</text>
</g>

<!-- Motif logos -->
<g id="motif-1" transform="translate(157,1012)">
<text class="ml" x="-19" y="5">Motif 1</text><line class="lax" x1="-2" y1="-15" x2="-2" y2="16"/>
<text class="lo" transform="translate(0,4) scale(0.6817,2.2)"><tspan class="cb">F</tspan><tspan class="cg">Q</tspan><tspan class="cb">L</tspan><tspan class="cg">T</tspan><tspan class="cr">R</tspan><tspan class="cm">E</tspan><tspan class="cb">L</tspan><tspan class="cg">Q</tspan><tspan class="cr">K</tspan><tspan class="cg">S</tspan><tspan class="cm">DE</tspan><tspan class="cg">T</tspan><tspan class="cb">I</tspan><tspan class="cm">E</tspan><tspan class="cb">WLLA</tspan><tspan class="cm">E</tspan><tspan class="cr">K</tspan><tspan class="cg">S</tspan><tspan class="cb">LIAA</tspan><tspan class="cg">T</tspan><tspan class="co">G</tspan><tspan class="cg">T</tspan><tspan class="co">G</tspan><tspan class="cg">T</tspan></text>
<text class="lo" transform="translate(0,15) scale(0.648,0.55)"><tspan class="cg">N</tspan><tspan class="cr">K</tspan><tspan class="cy">P</tspan><tspan class="cr">R</tspan><tspan class="cg">Q</tspan><tspan class="cm">D</tspan><tspan class="cr">R</tspan><tspan class="cg">S</tspan><tspan class="cr">K</tspan><tspan class="cb">A</tspan><tspan class="co">G</tspan><tspan class="cg">S</tspan><tspan class="cr">R</tspan><tspan class="cg">N</tspan><tspan class="cb">VIMF</tspan><tspan class="cr">KR</tspan><tspan class="cg">SQ</tspan><tspan class="cb">A</tspan><tspan class="cr">K</tspan><tspan class="cb">VL</tspan><tspan class="cg">QTTS</tspan><tspan class="cb">A</tspan></text>
</g>
<g id="motif-2" transform="translate(157,1046)">
<text class="ml" x="-19" y="5">Motif 2</text><line class="lax" x1="-2" y1="-15" x2="-2" y2="16"/>
<text class="lo" transform="translate(0,4) scale(0.8245,2.2)"><tspan class="cr">K</tspan><tspan class="cm">D</tspan><tspan class="cr">R</tspan><tspan class="ch">H</tspan><tspan class="cg">T</tspan><tspan class="cr">K</tspan><tspan class="cb">V</tspan><tspan class="cm">E</tspan><tspan class="co">G</tspan><tspan class="cr">R</tspan><tspan class="co">G</tspan><tspan class="cr">RR</tspan><tspan class="cb">I</tspan><tspan class="cr">R</tspan><tspan class="cb">M</tspan><tspan class="cy">P</tspan><tspan class="cb">A</tspan><tspan class="cg">T</tspan><tspan class="cb">CA</tspan></text>
<text class="lo" transform="translate(0,15) scale(1.0286,0.55)"><tspan class="cg">S</tspan><tspan class="cr">K</tspan><tspan class="ct">Y</tspan><tspan class="cg">S</tspan><tspan class="cb">A</tspan><tspan class="co">G</tspan><tspan class="cr">K</tspan><tspan class="cm">D</tspan><tspan class="cg">N</tspan><tspan class="cr">RK</tspan><tspan class="cb">VL</tspan><tspan class="cg">S</tspan><tspan class="ct">Y</tspan><tspan class="cg">TT</tspan></text>
</g>
<g id="motif-3" transform="translate(157,1083)">
<text class="ml" x="-19" y="5">Motif 3</text><line class="lax" x1="-2" y1="-15" x2="-2" y2="16"/>
<text class="lo" transform="translate(0,4) scale(0.8787,2.2)"><tspan class="ct">Y</tspan><tspan class="cm">D</tspan><tspan class="cb">AIF</tspan><tspan class="ct">Y</tspan><tspan class="cg">S</tspan><tspan class="cb">V</tspan><tspan class="cg">N</tspan><tspan class="co">G</tspan><tspan class="cg">S</tspan><tspan class="cb">L</tspan><tspan class="cr">R</tspan><tspan class="cb">I</tspan><tspan class="cy">P</tspan></text>
<text class="lo" transform="translate(0,15) scale(0.8686,0.55)"><tspan class="cb">V</tspan><tspan class="cr">R</tspan><tspan class="cb">A</tspan><tspan class="cg">N</tspan><tspan class="cb">A</tspan><tspan class="ct">Y</tspan><tspan class="cg">T</tspan><tspan class="cb">L</tspan><tspan class="co">G</tspan><tspan class="cb">V</tspan><tspan class="cg">T</tspan><tspan class="cr">K</tspan><tspan class="cg">SS</tspan></text>
</g>
<g id="motif-4" transform="translate(157,1120)">
<text class="ml" x="-19" y="5">Motif 4</text><line class="lax" x1="-2" y1="-15" x2="-2" y2="16"/>
<text class="lo" transform="translate(0,4) scale(0.7803,2.2)"><tspan class="ch">H</tspan><tspan class="cg">Q</tspan><tspan class="ch">H</tspan><tspan class="cg">QQQ</tspan><tspan class="ch">HH</tspan><tspan class="cg">Q</tspan><tspan class="ch">HH</tspan><tspan class="cg">QQ</tspan><tspan class="ch">H</tspan><tspan class="co">G</tspan></text>
<text class="lo" transform="translate(0,15) scale(0.9962,0.55)"><tspan class="cg">Q</tspan><tspan class="cm">D</tspan><tspan class="cg">Q</tspan><tspan class="cb">M</tspan><tspan class="co">G</tspan><tspan class="cb">A</tspan><tspan class="cg">Q</tspan><tspan class="cr">K</tspan><tspan class="cg">Q</tspan><tspan class="cy">P</tspan><tspan class="cg">T</tspan><tspan class="ct">Y</tspan></text>
</g>
<g id="motif-5" transform="translate(157,1158)">
<text class="ml" x="-19" y="5">Motif 5</text><line class="lax" x1="-2" y1="-15" x2="-2" y2="16"/>
<text class="lo" transform="translate(0,4) scale(0.9,2.2)"><tspan class="cm">D</tspan><tspan class="cb">F</tspan><tspan class="cg">S</tspan><tspan class="cb">L</tspan><tspan class="cg">Q</tspan><tspan class="cb">I</tspan><tspan class="cg">Q</tspan><tspan class="cm">D</tspan><tspan class="cr">K</tspan><tspan class="cm">EE</tspan><tspan class="cb">L</tspan><tspan class="cg">Q</tspan><tspan class="cb">M</tspan><tspan class="cg">Q</tspan><tspan class="cb">A</tspan><tspan class="cg">N</tspan></text>
<text class="lo" transform="translate(0,15) scale(0.818,0.55)"><tspan class="cg">N</tspan><tspan class="cr">K</tspan><tspan class="cg">Q</tspan><tspan class="cb">V</tspan><tspan class="cm">E</tspan><tspan class="cg">SS</tspan><tspan class="cr">K</tspan><tspan class="cg">QNS</tspan><tspan class="cm">D</tspan><tspan class="cg">Q</tspan><tspan class="cy">P</tspan><tspan class="cg">Q</tspan><tspan class="cm">E</tspan><tspan class="cb">AA</tspan></text>
</g>
<g id="motif-6" transform="translate(385,1012)">
<text class="ml" x="-13" y="5">Motif 6</text><line class="lax" x1="-2" y1="-15" x2="-2" y2="16"/>
<text class="lo" transform="translate(0,4) scale(0.8448,2.2)"><tspan class="co">GG</tspan><tspan class="cg">S</tspan><tspan class="co">GG</tspan><tspan class="cb">LV</tspan><tspan class="cg">N</tspan><tspan class="cb">MWAI</tspan><tspan class="co">GGG</tspan><tspan class="cb">LAA</tspan><tspan class="cy">P</tspan></text>
<text class="lo" transform="translate(0,15) scale(0.928,0.55)"><tspan class="cb">A</tspan><tspan class="cg">T</tspan><tspan class="cb">L</tspan><tspan class="cg">S</tspan><tspan class="co">G</tspan><tspan class="cg">S</tspan><tspan class="cb">A</tspan><tspan class="cy">P</tspan><tspan class="cg">S</tspan><tspan class="cb">V</tspan><tspan class="co">GG</tspan><tspan class="cg">TSS</tspan><tspan class="co">G</tspan><tspan class="cy">P</tspan><tspan class="cg">S</tspan></text>
</g>
<g id="motif-7" transform="translate(385,1047)">
<text class="ml" x="-13" y="5">Motif 7</text><line class="lax" x1="-2" y1="-15" x2="-2" y2="16"/>
<text class="lo" transform="translate(0,4) scale(0.5594,2.2)"><tspan class="cg">NQ</tspan><tspan class="cb">LL</tspan><tspan class="cm">E</tspan><tspan class="cg">N</tspan><tspan class="cr">K</tspan><tspan class="cm">E</tspan><tspan class="cb">L</tspan><tspan class="cm">D</tspan><tspan class="cb">VVAV</tspan><tspan class="cg">T</tspan><tspan class="cb">L</tspan><tspan class="cg">QQSSSN</tspan><tspan class="cb">W</tspan><tspan class="cr">R</tspan><tspan class="cb">V</tspan><tspan class="cr">R</tspan><tspan class="ct">Y</tspan><tspan class="cr">R</tspan><tspan class="cb">I</tspan><tspan class="cg">SQ</tspan><tspan class="cb">LL</tspan><tspan class="cg">S</tspan><tspan class="cb">I</tspan><tspan class="cg">ST</tspan></text>
<text class="lo" transform="translate(0,15) scale(0.637,0.55)"><tspan class="cr">K</tspan><tspan class="cm">E</tspan><tspan class="cb">LA</tspan><tspan class="cm">D</tspan><tspan class="co">G</tspan><tspan class="cb">V</tspan><tspan class="cm">E</tspan><tspan class="cb">LM</tspan><tspan class="cy">P</tspan><tspan class="cb">L</tspan><tspan class="cm">D</tspan><tspan class="cy">P</tspan><tspan class="cm">E</tspan><tspan class="cb">A</tspan><tspan class="cr">K</tspan><tspan class="cg">N</tspan><tspan class="cr">R</tspan><tspan class="cg">T</tspan><tspan class="cr">K</tspan><tspan class="cb">A</tspan><tspan class="cy">P</tspan><tspan class="cm">ED</tspan><tspan class="cg">Q</tspan><tspan class="ch">H</tspan><tspan class="cr">K</tspan><tspan class="cg">S</tspan><tspan class="cr">RR</tspan></text>
</g>
<g id="motif-8" transform="translate(385,1083)">
<text class="ml" x="-13" y="5">Motif 8</text><line class="lax" x1="-2" y1="-15" x2="-2" y2="16"/>
<text class="lo" transform="translate(0,4) scale(0.8066,2.2)"><tspan class="cr">R</tspan><tspan class="cb">IV</tspan><tspan class="cr">R</tspan><tspan class="cb">V</tspan><tspan class="ct">Y</tspan><tspan class="cr">R</tspan><tspan class="cb">A</tspan><tspan class="cg">T</tspan><tspan class="co">G</tspan><tspan class="cr">RK</tspan><tspan class="cm">D</tspan><tspan class="cr">R</tspan><tspan class="ch">H</tspan></text>
<text class="lo" transform="translate(0,15) scale(0.952,0.55)"><tspan class="cg">Q</tspan><tspan class="co">G</tspan><tspan class="cy">P</tspan><tspan class="cg">STS</tspan><tspan class="cb">I</tspan><tspan class="cg">NS</tspan><tspan class="cb">F</tspan><tspan class="cg">S</tspan><tspan class="cr">K</tspan><tspan class="co">G</tspan></text>
</g>
<g id="motif-9" transform="translate(385,1120)">
<text class="ml" x="-13" y="5">Motif 9</text><line class="lax" x1="-2" y1="-15" x2="-2" y2="16"/>
<text class="lo" transform="translate(0,4) scale(0.5495,2.2)"><tspan class="cb">M</tspan><tspan class="cy">P</tspan><tspan class="cb">I</tspan><tspan class="cy">P</tspan><tspan class="cb">FFL</tspan><tspan class="cg">Q</tspan><tspan class="cr">R</tspan><tspan class="cg">Q</tspan><tspan class="cr">R</tspan><tspan class="cg">QSQ</tspan><tspan class="cb">I</tspan><tspan class="ch">H</tspan><tspan class="cg">S</tspan><tspan class="cb">I</tspan><tspan class="cy">P</tspan><tspan class="cb">I</tspan><tspan class="cr">R</tspan><tspan class="cb">L</tspan><tspan class="cy">P</tspan><tspan class="cg">S</tspan><tspan class="cb">LA</tspan><tspan class="cg">S</tspan><tspan class="cm">D</tspan><tspan class="cg">N</tspan><tspan class="cb">VA</tspan><tspan class="cg">T</tspan><tspan class="cb">IM</tspan><tspan class="cg">S</tspan><tspan class="cb">FF</tspan><tspan class="cg">T</tspan><tspan class="cb">I</tspan><tspan class="cg">N</tspan></text>
<text class="lo" transform="translate(0,15) scale(0.8564,0.55)"><tspan class="cb">V</tspan><tspan class="cr">K</tspan><tspan class="cg">SQ</tspan><tspan class="cb">V</tspan><tspan class="cg">S</tspan><tspan class="cm">E</tspan><tspan class="cg">TQ</tspan><tspan class="cb">V</tspan><tspan class="cg">N</tspan><tspan class="cy">P</tspan><tspan class="cm">D</tspan><tspan class="co">G</tspan><tspan class="cg">ST</tspan><tspan class="cy">P</tspan><tspan class="cb">LM</tspan><tspan class="cg">ST</tspan><tspan class="cb">A</tspan><tspan class="cg">S</tspan><tspan class="cb">I</tspan></text>
</g>
<g id="motif-10" transform="translate(385,1158)">
<text class="ml" x="-13" y="5">Motif 10</text><line class="lax" x1="-2" y1="-15" x2="-2" y2="16"/>
<text class="lo" transform="translate(0,11) scale(0.5342,3.0)"><tspan class="cb">M</tspan><tspan class="cg">NQ</tspan><tspan class="cb">IM</tspan><tspan class="cg">SN</tspan><tspan class="co">G</tspan><tspan class="cb">M</tspan><tspan class="cg">S</tspan><tspan class="cb">ML</tspan><tspan class="cg">Q</tspan><tspan class="co">G</tspan><tspan class="cg">T</tspan><tspan class="cb">A</tspan><tspan class="co">G</tspan><tspan class="cm">D</tspan><tspan class="co">G</tspan><tspan class="cg">S</tspan><tspan class="cy">P</tspan><tspan class="cb">I</tspan><tspan class="cg">N</tspan><tspan class="cy">P</tspan><tspan class="cb">F</tspan><tspan class="cg">QN</tspan><tspan class="cb">M</tspan><tspan class="cg">S</tspan><tspan class="cb">FAI</tspan><tspan class="cg">TQ</tspan><tspan class="ch">H</tspan><tspan class="cm">E</tspan><tspan class="cb">IM</tspan></text>
</g>
</svg>
